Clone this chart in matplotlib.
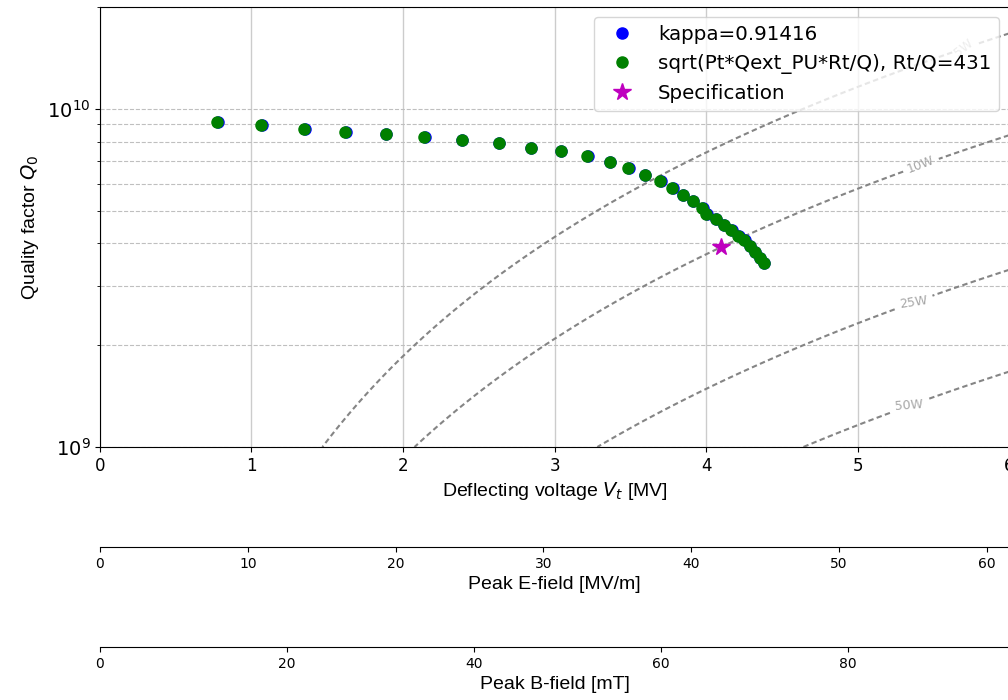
import matplotlib
matplotlib.use("Agg")
import matplotlib.pyplot as plt
import numpy as np

# measured points (deflecting voltage in MV, quality factor)
vt_meas = [0.772, 1.065, 1.347, 1.620, 1.885, 2.141, 2.388, 2.632, 2.844, 3.042,
           3.214, 3.364, 3.488, 3.596, 3.697, 3.776, 3.845, 3.913, 3.975, 4.001,
           4.063, 4.118, 4.167, 4.211, 4.251, 4.288, 4.321, 4.354, 4.380]
q0_meas = [9.14e9, 8.94e9, 8.74e9, 8.54e9, 8.41e9, 8.25e9, 8.11e9, 7.91e9, 7.68e9, 7.50e9,
           7.25e9, 6.94e9, 6.67e9, 6.37e9, 6.11e9, 5.84e9, 5.57e9, 5.33e9, 5.08e9, 4.89e9,
           4.73e9, 4.52e9, 4.37e9, 4.22e9, 4.08e9, 3.92e9, 3.77e9, 3.62e9, 3.49e9]
# same curve from the kappa calibration, sits right under the green one
vt_kappa = [0.776, 1.069, 1.351, 1.624, 1.889, 2.145, 2.392, 2.636, 2.848, 3.046,
            3.218, 3.368, 3.492, 3.600, 3.701, 3.780, 3.849, 3.917, 3.979, 4.005,
            4.067, 4.122, 4.171, 4.215, 4.255, 4.292, 4.325, 4.358, 4.384]

spec_vt = [4.1]
spec_q0 = [3.9e9]

RQ = 431.0
kappa = 0.91416
power_levels = [5, 10, 25, 50]
label_pos = [(5.69, 1.52e10), (5.42, 6.8e9), (5.37, 2.68e9), (5.34, 1.32e9)]

EPK_PER_VT = 10.25   # MV/m per MV
BPK_PER_VT = 16.2    # mT per MV
VT_MAX = 6.0

LABEL_FONT = "Liberation Sans"

fig = plt.figure(figsize=(10.08, 7), dpi=100)
ax = fig.add_axes([0.0992, 0.3614, 0.9018, 0.6286])

# dissipated power contours
vv = np.linspace(0.01, VT_MAX, 400)
qq = np.logspace(9, np.log10(2e10), 400)
V, Q = np.meshgrid(vv, qq)
P = (V * 1e6) ** 2 / (RQ * Q)
cs = ax.contour(V, Q, P, levels=power_levels, colors="0.52",
                linestyles=[(0, (2.6, 1.6))], linewidths=1.5)
ax.clabel(cs, fmt="%dW", fontsize=9, colors="0.65", inline=True, manual=label_pos)

ax.plot(vt_kappa, q0_meas, "o", color="b", ms=8, label=f"kappa={kappa}")
ax.plot(vt_meas, q0_meas, "o", color="g", ms=8, label=f"sqrt(Pt*Qext_PU*Rt/Q), Rt/Q={int(RQ)}")
ax.plot(spec_vt, spec_q0, "*", color="m", ms=13, label="Specification")

ax.set_yscale("log")
ax.set_xlim(0, VT_MAX)
ax.set_ylim(1e9, 2e10)
ax.grid(axis="x", color="0.8", lw=1)
ax.grid(axis="y", which="both", ls="--", color="0.75", lw=0.8)
ax.tick_params(axis="x", labelsize=12)
ax.tick_params(axis="y", labelsize=14)
ax.set_xlabel("Deflecting voltage $V_t$ [MV]", fontsize=14, family=LABEL_FONT)
ax.set_ylabel("Quality factor $Q_0$", fontsize=14, family=LABEL_FONT)
ax.legend(loc="upper right", fontsize=14.3)

# secondary field axes below
for i, (ratio, lab) in enumerate([(EPK_PER_VT, "Peak E-field [MV/m]"),
                                  (BPK_PER_VT, "Peak B-field [mT]")]):
    ax2 = ax.twiny()
    ax2.set_xlim(0, VT_MAX * ratio)
    ax2.xaxis.set_ticks_position("bottom")
    ax2.xaxis.set_label_position("bottom")
    ax2.spines["bottom"].set_position(("axes", -0.227 * (i + 1)))
    for s in ["top", "left", "right"]:
        ax2.spines[s].set_visible(False)
    ax2.patch.set_visible(False)
    ax2.tick_params(axis="x", labelsize=10)
    ax2.set_xlabel(lab, fontsize=14, family=LABEL_FONT)

fig.savefig("out.png", dpi=100)
